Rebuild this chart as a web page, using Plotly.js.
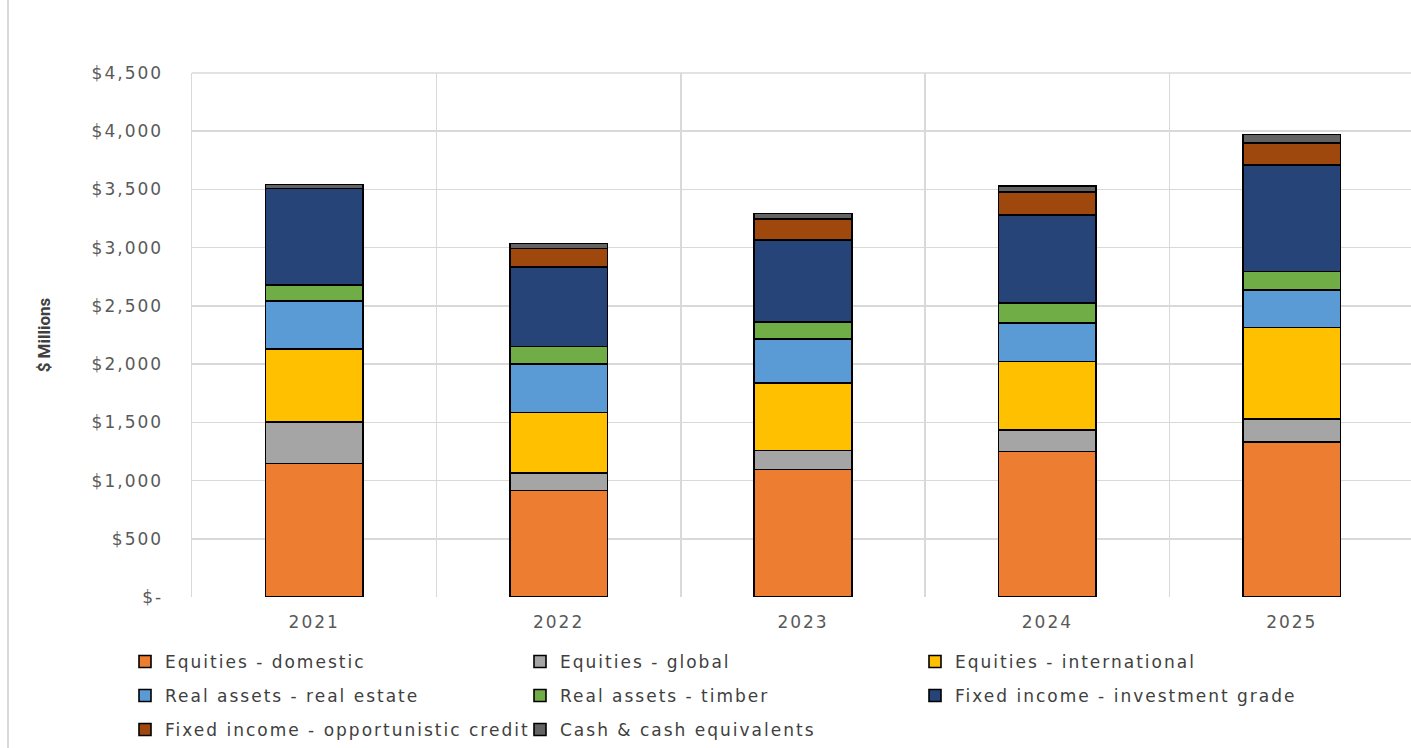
<!DOCTYPE html>
<html>
<head>
<meta charset="utf-8">
<script src="https://cdn.plot.ly/plotly-3.0.1.min.js"></script>
<style>
  html, body { margin: 0; padding: 0; background: #ffffff; overflow: hidden; width: 1411px; height: 748px; }
  #chart { position: absolute; left: 0; top: 0; width: 1416px; height: 748px; }
  #frame { position: absolute; left: 7px; top: 0; width: 2px; height: 748px; background: #d9d9d9; z-index: 10; }
  #chart text.legendtext, #chart .xtick text, #chart .ytick text { letter-spacing: 2px; }
</style>
</head>
<body>
<div id="chart"></div>
<div id="frame"></div>
<script>
const years = ["2021", "2022", "2023", "2024", "2025"];

const equitiesDomestic      = [1145,  913, 1094, 1251, 1329];
const equitiesGlobal        = [ 358,  152,  163,  184,  200];
const equitiesInternational = [ 628,  521,  581,  589,  787];
const realEstate            = [ 412,  416,  378,  330,  318];
const timber                = [ 137,  151,  146,  169,  163];
const investmentGrade       = [ 828,  682,  702,  758,  911];
const opportunisticCredit   = [   0,  157,  180,  195,  192];
const cashEquivalents       = [  34,   43,   49,   55,   71];

const seriesNames = [
  "Equities - domestic", "Equities - global", "Equities - international",
  "Real assets - real estate", "Real assets - timber", "Fixed income - investment grade",
  "Fixed income - opportunistic credit", "Cash & cash equivalents"
];
const seriesValues = [equitiesDomestic, equitiesGlobal, equitiesInternational, realEstate,
  timber, investmentGrade, opportunisticCredit, cashEquivalents];
const seriesColors = ["#ED7D31", "#A5A5A5", "#FFC000", "#5B9BD5", "#70AD47", "#264478", "#9E480E", "#636363"];
const legendRows = ["legend", "legend", "legend", "legend2", "legend2", "legend2", "legend3", "legend3"];

const yTickVals = [0, 500, 1000, 1500, 2000, 2500, 3000, 3500, 4000, 4500];
const yTickText = ["$-", "$500", "$1,000", "$1,500", "$2,000", "$2,500", "$3,000", "$3,500", "$4,000", "$4,500"];

const traces = seriesNames.map((name, i) => ({
  type: "bar",
  name: name,
  x: years,
  y: seriesValues[i],
  legend: legendRows[i],
  marker: { color: seriesColors[i], line: { color: "#000000", width: 1.6 } },
  hoverinfo: "x+y+name"
}));

function legendRow(topPx) {
  return {
    orientation: "h",
    traceorder: "normal",
    xref: "container",
    yref: "container",
    x: 125 / 1416,
    xanchor: "left",
    y: 1 - topPx / 748,
    yanchor: "top",
    entrywidth: 350,
    entrywidthmode: "pixels",
    bgcolor: "rgba(0,0,0,0)",
    font: { size: 17, color: "#404040" }
  };
}

const layout = {
  width: 1416,
  height: 748,
  paper_bgcolor: "#ffffff",
  plot_bgcolor: "#ffffff",
  barmode: "stack",
  bargap: 0.6,
  margin: { l: 192, r: 2, t: 73, b: 151 },
  font: { family: "DejaVu Sans, sans-serif", color: "#595959", size: 17 },
  xaxis: {
    type: "category",
    tickson: "boundaries",
    showgrid: true,
    gridcolor: "#d9d9d9",
    gridwidth: 1.5,
    ticks: "",
    showline: false,
    zeroline: false,
    tickfont: { size: 17, color: "#595959" },
    ticklabelstandoff: 13
  },
  yaxis: {
    range: [0, 4500],
    tickvals: yTickVals,
    ticktext: yTickText,
    showgrid: true,
    gridcolor: "#d9d9d9",
    gridwidth: 1.5,
    zeroline: false,
    showline: true,
    linecolor: "#d9d9d9",
    linewidth: 1.5,
    ticks: "",
    ticklabelstandoff: 24,
    tickfont: { size: 17, color: "#595959" },
    title: {
      text: "$ Millions",
      standoff: 48,
      font: { family: "Liberation Sans Narrow, Roboto, sans-serif", size: 17, color: "#404040", weight: "bold" }
    }
  },
  showlegend: true,
  legend: legendRow(644),
  legend2: legendRow(678),
  legend3: legendRow(712),
  shapes: [
    { type: "line", xref: "paper", yref: "paper", x0: 0, x1: 1, y0: 1, y1: 1, line: { color: "#d9d9d9", width: 1.5 } }
  ]
};

function spaceLegendText(gd) {
  gd.querySelectorAll("text").forEach(t => {
    const g = t.closest("g.legend, g.legend2, g.legend3, [class^='legend']");
    if (t.classList.contains("legendtext") || g) t.style.letterSpacing = "2px";
  });
}

Plotly.newPlot("chart", traces, layout, { displayModeBar: false, staticPlot: true }).then(gd => {
  spaceLegendText(gd);
  gd.on("plotly_afterplot", () => spaceLegendText(gd));
});
</script>
</body>
</html>
